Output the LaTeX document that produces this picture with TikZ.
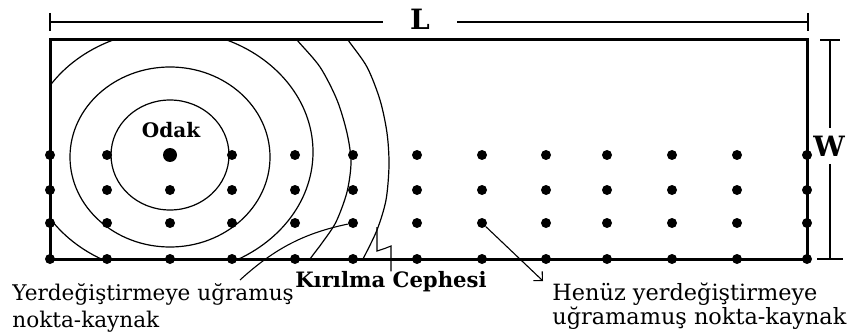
\documentclass[tikz,border=0pt]{standalone}
\usepackage{fontspec}
\setmainfont{DejaVu Serif}
\usetikzlibrary{arrows.meta}

\begin{document}
\begin{tikzpicture}[x=0.5pt, y=-0.5pt,
  dot/.style={circle, fill=black, inner sep=0pt, minimum size=5pt},
  wave/.style={line width=0.6pt},
  dim/.style={line width=0.7pt},
  dimlbl/.style={font=\bfseries\fontsize{14}{16}\selectfont, inner sep=0pt},
  note/.style={align=left, inner sep=0pt, anchor=north west},
  leader/.style={line width=0.55pt}]
  \useasboundingbox (0,0) rectangle (849,336);

  % plate
  \draw[line width=1.5pt] (50,40) rectangle (807,259);

  % length L
  \coordinate (la) at (50,22);
  \coordinate (lb) at (808,22);
  \node[dimlbl, minimum width=37pt] (L) at (420,19) {L};
  \draw[dim] (la) -- (la -| L.west);
  \draw[dim] (lb -| L.east) -- (lb);
  \draw[dim] (50,13) -- (50,31) (808,13) -- (808,31);

  % width W
  \coordinate (wa) at (830,40);
  \coordinate (wb) at (830,259);
  \node[dimlbl, minimum height=17.5pt] (W) at (829,146) {W};
  \draw[dim] (wa) -- (wa |- W.north);
  \draw[dim] (wb |- W.south) -- (wb);
  \draw[dim] (820,40) -- (840,40) (817,259) -- (843,259);

  % wave fronts
  \begin{scope}
    \clip (50,40) rectangle (807,259);
    \draw[wave] (170,155) ellipse [x radius=59, y radius=55];
    \draw[wave] (170,157) ellipse [x radius=100, y radius=90];
    \draw[wave] (170,152) ellipse [x radius=143, y radius=122];
    \draw[wave] plot[smooth] coordinates {(290,30) (297,40) (320,67) (337,100) (347,133)
      (351,162) (347,192) (336,222) (322,243) (310,259) (305,268)};
    \draw[wave] plot[smooth] coordinates {(342,30) (348,40) (367,67) (380,100) (387,133)
      (389,165) (386,200) (377,230) (363,259) (358,268)};
  \end{scope}

  % point sources
  \foreach \x [count=\i] in {50,107,170,232,295,353,417,482,546,607,672,737,807}
    \foreach \y [count=\j] in {155,190,223,259}
      \node[dot] (p\i-\j) at (\x,\y) {};
  \node[dot, minimum size=7pt] (focus) at (170,155) {};
  \node[font=\bfseries\fontsize{10}{12}\selectfont] (odak) at (171,130) {Odak};

  % fracture front
  \coordinate (fk) at (377,227);
  \node[font=\bfseries\fontsize{10.6}{12}\selectfont, inner sep=0pt] (front) at (391,282) {Kırılma Cephesi};
  \draw[leader] (fk) -- (377,251) -- (386,248) -- (391,246) -- (front.north);

  % displaced source
  \coordinate (yk) at (240,280);
  \node[note, font=\fontsize{10.8}{13.5}\selectfont] (moved) at (12,283) {Yerdeğiştirmeye uğramuş\\nokta-kaynak};
  \draw[leader] (p6-3) .. controls (305,233) and (275,248) .. (yk);

  % untouched source
  \coordinate (hk) at (543,281);
  \node[note, font=\fontsize{11.2}{12}\selectfont] (fresh) at (552,283) {Henüz yerdeğiştirmeye\\uğramamuş nokta-kaynak};
  \draw[leader, -{Straight Barb[angle=90:4.5pt]}] (p8-3) -- (hk);
\end{tikzpicture}
\end{document}
